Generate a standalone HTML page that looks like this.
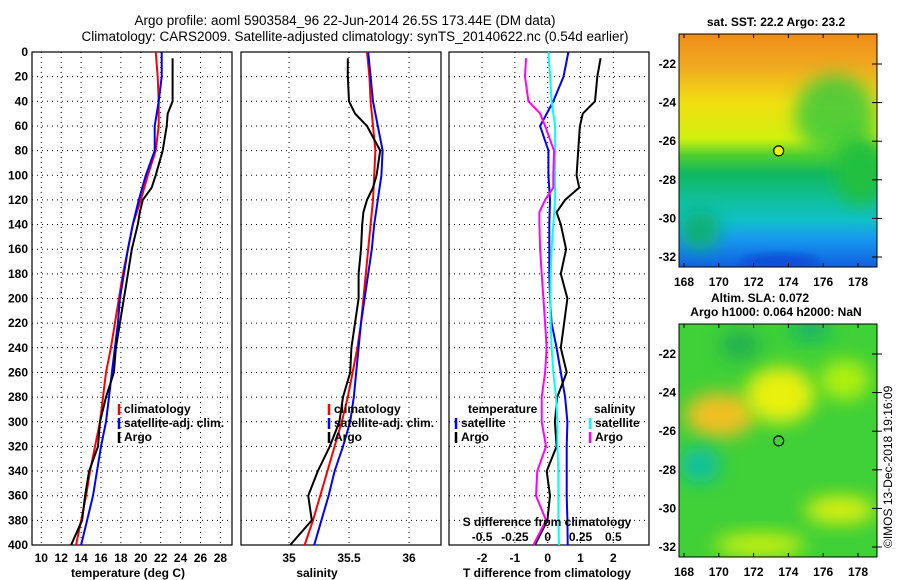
<!DOCTYPE html>
<html><head><meta charset="utf-8"><style>
html,body{margin:0;padding:0;background:#fff;width:900px;height:580px;overflow:hidden}
svg text{font-family:"Liberation Sans",sans-serif}
</style></head><body>
<svg id="c" width="900" height="580" xmlns="http://www.w3.org/2000/svg">
<defs>
<filter id="bl" x="-50%" y="-50%" width="200%" height="200%"><feGaussianBlur stdDeviation="9"/></filter>
<filter id="bl2" x="-50%" y="-50%" width="200%" height="200%"><feGaussianBlur stdDeviation="4"/></filter>
<linearGradient id="sstg" x1="0" y1="0" x2="0" y2="1">
<stop offset="0" stop-color="#f08c18"/><stop offset="0.14" stop-color="#f0aa20"/>
<stop offset="0.3" stop-color="#f0e010"/><stop offset="0.45" stop-color="#d0f010"/>
<stop offset="0.52" stop-color="#50d030"/><stop offset="0.6" stop-color="#10b860"/>
<stop offset="0.72" stop-color="#10c0a0"/><stop offset="0.8" stop-color="#10c0c8"/>
<stop offset="0.88" stop-color="#1898f0"/><stop offset="1" stop-color="#1060e0"/>
</linearGradient>
<clipPath id="cm1"><rect x="679" y="34" width="198" height="233"/></clipPath>
<clipPath id="cm2"><rect x="679" y="324" width="198" height="233"/></clipPath>
</defs>
<text x="345" y="25" text-anchor="middle" font-size="13.5">Argo profile: aoml 5903584_96 22-Jun-2014 26.5S 173.44E (DM data)</text>
<text x="355" y="41" text-anchor="middle" font-size="13.5">Climatology: CARS2009. Satellite-adjusted climatology: synTS_20140622.nc (0.54d earlier)</text>

<g>
<g clip-path="url(#cm1)">
<rect x="679" y="34" width="198" height="233" fill="url(#sstg)"/>
<ellipse cx="835" cy="115" rx="40" ry="40" fill="#30c840" filter="url(#bl)" opacity="0.8"/>
<ellipse cx="860" cy="170" rx="25" ry="35" fill="#20c040" filter="url(#bl)"/>
<ellipse cx="700" cy="230" rx="20" ry="20" fill="#10b070" filter="url(#bl)"/>
<ellipse cx="780" cy="262" rx="40" ry="8" fill="#0850d8" filter="url(#bl2)"/>
</g>
<rect x="679" y="34" width="198" height="233" fill="none" stroke="#000"/>
</g>
<g>
<g clip-path="url(#cm2)">
<rect x="679" y="324" width="198" height="233" fill="#40d038"/>
<ellipse cx="720" cy="415" rx="35" ry="22" fill="#f0c020" filter="url(#bl)"/>
<ellipse cx="780" cy="395" rx="35" ry="28" fill="#e8f010" filter="url(#bl)"/>
<ellipse cx="845" cy="380" rx="25" ry="20" fill="#b0f010" filter="url(#bl)"/>
<ellipse cx="700" cy="465" rx="20" ry="18" fill="#10c0a0" filter="url(#bl)"/>
<ellipse cx="840" cy="510" rx="35" ry="14" fill="#d8f010" filter="url(#bl)"/>
<ellipse cx="760" cy="545" rx="45" ry="12" fill="#c8f010" filter="url(#bl)"/>
<ellipse cx="740" cy="345" rx="20" ry="15" fill="#20b050" filter="url(#bl)"/>
<ellipse cx="810" cy="330" rx="20" ry="10" fill="#10b070" filter="url(#bl)"/>
</g>
<rect x="679" y="324" width="198" height="233" fill="none" stroke="#000"/>
</g>
<text x="776" y="26" text-anchor="middle" font-size="12" font-weight="bold">sat. SST: 22.2 Argo: 23.2</text>
<text x="760" y="302" text-anchor="middle" font-size="12" font-weight="bold">Altim. SLA: 0.072</text>
<text x="776" y="316" text-anchor="middle" font-size="12" font-weight="bold">Argo h1000: 0.064 h2000: NaN</text>
<text transform="translate(892,548) rotate(-90)" font-size="12">©IMOS 13-Dec-2018 19:16:09</text>
<g id="plots"></g>
</svg>
<script>
const depths=[0,20,40,60,80,100,120,140,160,180,200,220,240,260,280,300,320,340,360,380,400];
const tempClim=[21.5,21.7,21.8,21.8,21.5,20.7,20.0,19.2,18.7,18.2,17.8,17.4,17.0,16.5,16.2,15.9,15.4,14.9,14.5,14.0,13.5];
const tempSat=[22.1,22.1,21.8,21.4,21.4,20.5,19.8,19.2,18.7,18.3,17.9,17.7,17.4,17.1,16.8,16.5,16.0,15.6,15.2,14.6,14.0];
const argoDepths=[5,20,40,50,60,80,100,110,120,130,140,160,180,200,220,240,260,280,300,320,340,360,380,400];
const tempArgo=[23.2,23.2,23.2,22.7,22.6,22.2,21.5,21.1,20.2,19.9,19.7,19.1,18.7,18.3,17.9,17.5,17.3,16.5,15.9,15.7,14.8,14.4,14.1,13.0];
const salClim=[35.65,35.67,35.68,35.70,35.72,35.71,35.70,35.68,35.66,35.64,35.62,35.60,35.57,35.53,35.49,35.44,35.38,35.32,35.26,35.20,35.13];
const salSat=[35.66,35.68,35.70,35.74,35.78,35.77,35.74,35.71,35.69,35.66,35.63,35.60,35.58,35.56,35.54,35.51,35.45,35.38,35.33,35.27,35.21];
const salArgo=[35.49,35.49,35.50,35.55,35.65,35.76,35.73,35.70,35.65,35.62,35.61,35.60,35.58,35.58,35.55,35.52,35.51,35.45,35.42,35.34,35.24,35.16,35.19,35.01];
const tDiffSat=[0.63,0.48,0.17,-0.23,0.02,0.02,0.07,0.05,0.05,0.05,0.07,0.12,0.27,0.40,0.53,0.60,0.58,0.58,0.58,0.60,0.61];
const tDiffArgo=[1.61,1.51,1.44,1.07,0.98,0.93,0.88,0.96,0.53,0.27,0.40,0.56,0.40,0.60,0.50,0.40,0.58,0.29,0.22,0.27,-0.03,0.07,-0.01,-0.39];
const sDiffSat=[0.005,0.018,0.03,0.056,0.056,0.056,0.056,0.043,0.03,0.023,0.02,0.023,0.03,0.043,0.063,0.074,0.074,0.081,0.081,0.081,0.086];
const sDiffArgo=[-0.165,-0.173,-0.147,-0.058,-0.02,0.048,0.043,0.043,-0.02,-0.063,-0.063,-0.058,-0.046,-0.033,-0.02,-0.008,-0.02,-0.046,-0.046,-0.013,-0.079,-0.089,-0.013,-0.109];
const depthTicks=[0,20,40,60,80,100,120,140,160,180,200,220,240,260,280,300,320,340,360,380,400];
const tempTicks=[10,12,14,16,18,20,22,24,26,28];
const salTicks=[35,35.5,36];
const tdTicks=[-2,-1,0,1,2];
const sdTicks=[-0.5,-0.25,0,0.25,0.5];
const sdTickLabels=["-0.5","-0.25","0","0.25","0.5"];
const lonTicks=[168,170,172,174,176,178];
const latTicks=[-22,-24,-26,-28,-30,-32];
const argoLon=173.44, argoLat=-26.5;

const NS="http://www.w3.org/2000/svg";
const root=document.getElementById('plots');
function mk(tag,attrs,parent){const e=document.createElementNS(NS,tag);for(const k in attrs)e.setAttribute(k,attrs[k]);(parent||root).appendChild(e);return e;}
const Y0=52,Y1=545;
const yD=d=>Y0+(d/400)*(Y1-Y0);
function panel(x0,x1,xs,ticks,name){
  const g=mk('g',{});
  
  
  ticks.forEach(t=>{const x=xs(t);mk('line',{x1:x,x2:x,y1:Y0,y2:Y1,stroke:'#000','stroke-width':1,'stroke-dasharray':'1,4'},g);});
  depthTicks.forEach(d=>{mk('line',{x1:x0,x2:x1,y1:yD(d),y2:yD(d),stroke:'#000','stroke-width':1,'stroke-dasharray':'1,4'},g);});
  mk('rect',{x:x0,y:Y0,width:x1-x0,height:Y1-Y0,fill:'none',stroke:'#000','stroke-width':1.2},g);
  return g;
}
function line(g,xs,vals,ds,color,w,name){
  const pts=vals.map((v,i)=>xs(v).toFixed(1)+','+yD(ds[i]).toFixed(1)).join(' ');
  const p=mk('polyline',{points:pts,fill:'none',stroke:color,'stroke-width':w},g);
  
  
}
function txt(g,x,y,s,attrs,name){const t=mk('text',Object.assign({x:x,y:y,'font-size':12,'font-weight':'bold'},attrs||{}),g);t.textContent=s;return t;}
const TLY=Y1+17, ATY=577;
const LEG=[413,427,441];

// Temperature panel
const xT=t=>41.3+(t-10)*9.95;
const g1=panel(32,232,xT,tempTicks,'temperature-panel');
depthTicks.forEach(d=>txt(g1,28,yD(d)+4,String(d),{'text-anchor':'end'},'y-tick-label'));
tempTicks.forEach(t=>txt(g1,xT(t),TLY,String(t),{'text-anchor':'middle'},'x-tick-label'));
txt(g1,128,ATY,'temperature (deg C)',{'text-anchor':'middle'},'x-axis-title');
line(g1,xT,tempClim,depths,'#f00',2,'climatology-temperature-line');
line(g1,xT,tempSat,depths,'#00f',2,'satellite-temperature-line');
line(g1,xT,tempArgo,argoDepths,'#000',2,'argo-temperature-line');
[['climatology','#f00',LEG[0]],['satellite-adj. clim.','#00f',LEG[1]],['Argo','#000',LEG[2]]].forEach(l=>{
  mk('line',{x1:119,x2:119,y1:l[2]-9,y2:l[2]+2,stroke:l[1],'stroke-width':2.5},g1);
  txt(g1,124,l[2],l[0],{},'legend-entry');
});

// Salinity panel
const xS=s=>289+(s-35)*120;
const g2=panel(241,441,xS,salTicks,'salinity-panel');
salTicks.forEach(t=>txt(g2,xS(t),TLY,String(t),{'text-anchor':'middle'},'x-tick-label'));
txt(g2,317,ATY,'salinity',{'text-anchor':'middle'},'x-axis-title');
line(g2,xS,salClim,depths,'#f00',2,'climatology-salinity-line');
line(g2,xS,salSat,depths,'#00f',2,'satellite-salinity-line');
line(g2,xS,salArgo,argoDepths,'#000',2,'argo-salinity-line');
[['climatology','#f00',LEG[0]],['satellite-adj. clim.','#00f',LEG[1]],['Argo','#000',LEG[2]]].forEach(l=>{
  mk('line',{x1:329,x2:329,y1:l[2]-9,y2:l[2]+2,stroke:l[1],'stroke-width':2.5},g2);
  txt(g2,334,l[2],l[0],{},'legend-entry');
});

// Difference panel
const xTD=t=>547.7+t*32.83;
const xSD=s=>547.7+s*131.3;
const g3=panel(449,649,xTD,tdTicks,'difference-panel');
tdTicks.forEach(t=>txt(g3,xTD(t),TLY,String(t),{'text-anchor':'middle'},'x-tick-label'));
txt(g3,547,ATY,'T difference from climatology',{'text-anchor':'middle'},'x-axis-title');
line(g3,xTD,tDiffSat,depths,'#00f',2,'satellite-tdiff-line');
line(g3,xTD,tDiffArgo,argoDepths,'#000',2,'argo-tdiff-line');
line(g3,xSD,sDiffSat,depths,'#0ff',2,'satellite-sdiff-line');
line(g3,xSD,sDiffArgo,argoDepths,'#f0f',2,'argo-sdiff-line');
sdTicks.forEach((s,i)=>txt(g3,xSD(s),541,sdTickLabels[i],{'text-anchor':'middle'},'s-diff-tick-label'));
txt(g3,547,526,'S difference from climatology',{'text-anchor':'middle'},'s-diff-axis-title');
txt(g3,468,LEG[0],'temperature',{},'legend-title');
txt(g3,594,LEG[0],'salinity',{},'legend-title');
[['satellite','#00f',LEG[1],460],['Argo','#000',LEG[2],460],['satellite','#0ff',LEG[1],594],['Argo','#f0f',LEG[2],594]].forEach(l=>{
  mk('line',{x1:l[3]-4,x2:l[3]-4,y1:l[2]-9,y2:l[2]+2,stroke:l[1],'stroke-width':2.5},g3);
  txt(g3,l[3]+1,l[2],l[0],{},'legend-entry');
});

// Map axes
const xLon=l=>684+(l-168)*17.4;
function mapAxes(top,name){
  const g=mk('g',{});
  
  
  const yLat=la=>top+30+(-22-la)*19.3;
  lonTicks.forEach(l=>{const x=xLon(l);mk('line',{x1:x,x2:x,y1:top,y2:top+4,stroke:'#000'},g);mk('line',{x1:x,x2:x,y1:top+233,y2:top+229,stroke:'#000'},g);txt(g,x,top+252,String(l),{'text-anchor':'middle'},'lon-tick-label');});
  latTicks.forEach(la=>{const y=yLat(la);mk('line',{x1:877,x2:872,y1:y,y2:y,stroke:'#000'},g);mk('line',{x1:877,x2:882,y1:y,y2:y,stroke:'#000'},g);txt(g,676,y+4,String(la),{'text-anchor':'end'},'lat-tick-label');});
  const m=mk('circle',{cx:xLon(argoLon),cy:yLat(argoLat),r:5,fill:name==='sst-map-axes'?'#f0f000':'none',stroke:'#000','stroke-width':1.2},g);
  
  
}
mapAxes(34,'sst-map-axes');
mapAxes(324,'sla-map-axes');
</script>
</body></html>
